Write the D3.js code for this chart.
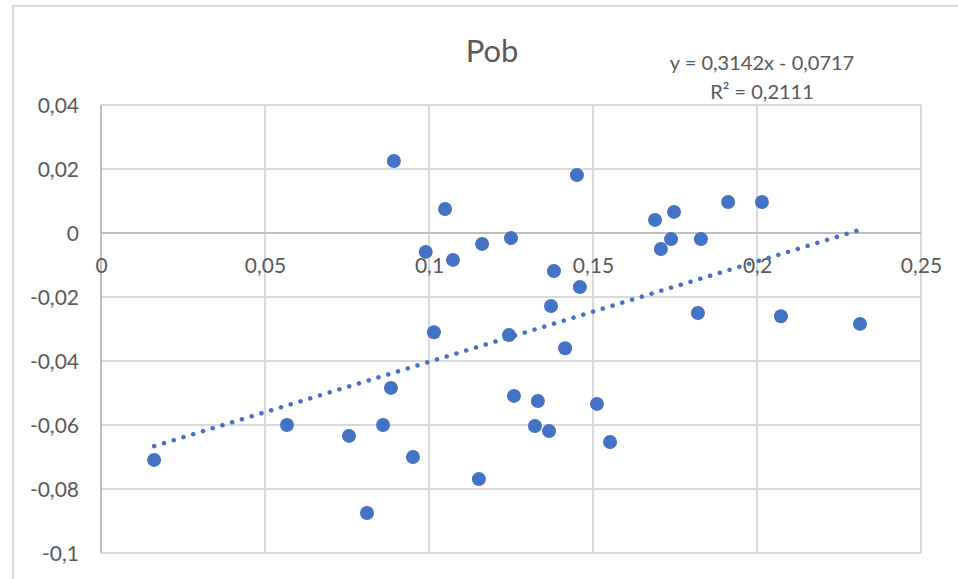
<!DOCTYPE html>
<html>
<head>
<meta charset="utf-8">
<script src="https://cdn.jsdelivr.net/npm/d3@7"></script>
<style>
  html, body { margin: 0; padding: 0; background: #fff; }
  svg { display: block; }
  text { font-family: Lato, "Open Sans", sans-serif; fill: #595959; }
</style>
</head>
<body>
<svg id="chart" width="958" height="579"></svg>
<script>
// Data
const xValues = [0.0162, 0.0567, 0.0756, 0.0811, 0.0860, 0.0884, 0.0893, 0.0951, 0.0990, 0.1015,
  0.1049, 0.1073, 0.1152, 0.1162, 0.1250, 0.1244, 0.1259, 0.1323, 0.1332, 0.1366,
  0.1372, 0.1381, 0.1415, 0.1451, 0.1460, 0.1512, 0.1552, 0.1689, 0.1707, 0.1747,
  0.1738, 0.1829, 0.1912, 0.2015, 0.1820, 0.2073, 0.2314];
const yValues = [-0.0709, -0.0600, -0.0634, -0.0875, -0.0600, -0.0484, 0.0225, -0.0700, -0.0059, -0.0310,
  0.0075, -0.0084, -0.0769, -0.0034, -0.0016, -0.0319, -0.0509, -0.0603, -0.0525, -0.0619,
  -0.0228, -0.0119, -0.0360, 0.0181, -0.0169, -0.0534, -0.0653, 0.0041, -0.0050, 0.0066,
  -0.0019, -0.0019, 0.0097, 0.0097, -0.0250, -0.0260, -0.0284];
const xTicks = [0, 0.05, 0.1, 0.15, 0.2, 0.25];
const yTicks = [0.04, 0.02, 0, -0.02, -0.04, -0.06, -0.08, -0.1];
const slope = 0.3142, intercept = -0.0717;
const title = "Pob";
const eqLabel = "y = 0,3142x - 0,0717";
const r2Label = "R² = 0,2111";

(function () {
const points = xValues.map((x, i) => ({x, y: yValues[i]}));
const fmt = v => String(+v.toFixed(2)).replace(".", ",");

const svg = d3.select("#chart");
const pL = 101, pR = 921, pT = 105, pB = 553;
const x = d3.scaleLinear().domain([0, 0.25]).range([pL, pR]);
const y = d3.scaleLinear().domain([-0.1, 0.04]).range([pB, pT]);

// outer chart border
svg.append("rect").attr("x", 13).attr("y", 6).attr("width", 1000).attr("height", 1000)
  .attr("fill", "none").attr("stroke", "#d9d9d9").attr("stroke-width", 2);

// gridlines
svg.append("g").selectAll("line").data(xTicks).join("line")
  .attr("x1", d => x(d)).attr("x2", d => x(d)).attr("y1", pT).attr("y2", pB)
  .attr("stroke", "#d9d9d9").attr("stroke-width", 2);
svg.append("g").selectAll("line").data(yTicks).join("line")
  .attr("x1", pL).attr("x2", pR).attr("y1", d => y(d)).attr("y2", d => y(d))
  .attr("stroke", "#d9d9d9").attr("stroke-width", 2);

// axis lines
svg.append("line").attr("x1", pL).attr("x2", pR).attr("y1", y(0)).attr("y2", y(0))
  .attr("stroke", "#bfbfbf").attr("stroke-width", 2);
svg.append("line").attr("x1", pL).attr("x2", pL).attr("y1", pT).attr("y2", pB)
  .attr("stroke", "#bfbfbf").attr("stroke-width", 2);

// axis tick labels via d3 axes
const xAxis = d3.axisBottom(x).tickValues(xTicks).tickFormat(fmt).tickSize(0).tickPadding(0);
const gx = svg.append("g").attr("transform", `translate(0,${y(0)})`).call(xAxis);
gx.select(".domain").remove();
gx.selectAll("text").attr("dy", null).attr("y", 40).style("font-size", "21px")
  .style("font-family", "Lato, sans-serif").attr("fill", "#595959");

const yAxis = d3.axisLeft(y).tickValues(yTicks).tickFormat(fmt).tickSize(0).tickPadding(0);
const gy = svg.append("g").attr("transform", `translate(${pL - 22},0)`).call(yAxis);
gy.select(".domain").remove();
gy.selectAll("text").attr("dy", "0.36em").style("font-size", "21px")
  .style("font-family", "Lato, sans-serif").attr("fill", "#595959");

// trendline
const xMin = d3.min(xValues), xMax = d3.max(xValues);
const trend = [xMin, xMax].map(v => ({x: v, y: slope * v + intercept}));
svg.append("path").datum(trend)
  .attr("d", d3.line().x(d => x(d.x)).y(d => y(d.y)))
  .attr("fill", "none").attr("stroke", "#4472C4").attr("stroke-width", 4.5)
  .attr("stroke-linecap", "round").attr("stroke-dasharray", "0.1 10.1");

// points
svg.append("g").selectAll("circle").data(points).join("circle")
  .attr("cx", d => x(d.x)).attr("cy", d => y(d.y)).attr("r", 7)
  .attr("fill", "#4472C4");

// title
svg.append("text").attr("x", 492).attr("y", 62).attr("text-anchor", "middle")
  .style("font-size", "31px").text(title);

// equation
svg.append("text").attr("x", 762).attr("y", 70).attr("text-anchor", "middle")
  .style("font-size", "20px").text(eqLabel);
svg.append("text").attr("x", 762).attr("y", 99).attr("text-anchor", "middle")
  .style("font-size", "20px").text(r2Label);
})();
</script>
</body>
</html>
